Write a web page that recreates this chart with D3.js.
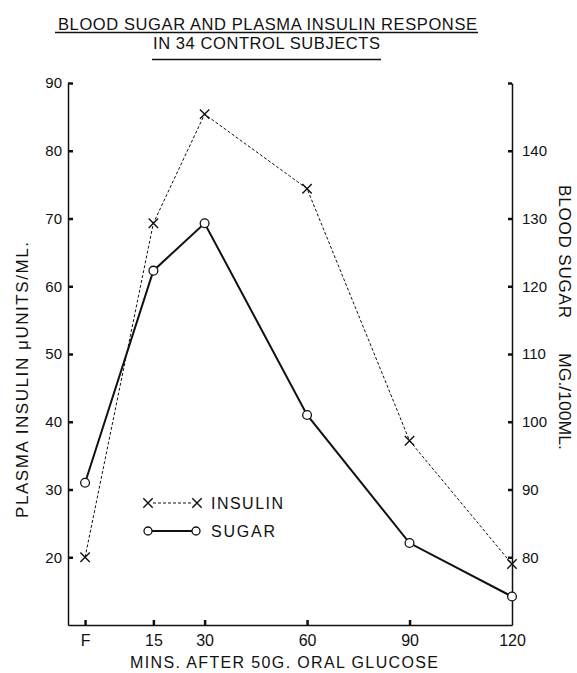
<!DOCTYPE html>
<html>
<head>
<meta charset="utf-8">
<script src="https://cdn.jsdelivr.net/npm/d3@7"></script>
<style>
  body { margin: 0; background: #fff; }
  svg text { font-family: 'Liberation Sans', Arial, sans-serif; fill: #111; }
  .axis path { stroke: #111; stroke-width: 1.5px; }
  .axis line { stroke: #111; stroke-width: 2.5px; }
  .axis text { font-size: 15px; }
</style>
</head>
<body>
<script>
// time points (F = fasting, placed just left of zero)
var timeLabels = ["F", "15", "30", "60", "90", "120"];
var timeMins = [-5, 15, 30, 60, 90, 120];

// mean values
var insulin = [20, 69.3, 85.4, 74.4, 37.2, 19];      // plasma insulin, microunits/ml
var sugar = [91, 122.3, 129.3, 101, 82.1, 74.2];     // blood sugar, mg/100ml

var insulinTicks = [20, 30, 40, 50, 60, 70, 80, 90];
var sugarTicks = [80, 90, 100, 110, 120, 130, 140, 150];

var W = 577, H = 673;
var pLeft = 68, pRight = 512, pTop = 83, pBottom = 625;

var svg = d3.select("body").append("svg")
  .attr("width", W)
  .attr("height", H);

var x = d3.scaleLinear().domain([-10, 120]).range([pLeft, pRight]);
var yIns = d3.scaleLinear().domain([10, 90]).range([pBottom, pTop]);
var ySug = d3.scaleLinear().domain([70, 150]).range([pBottom, pTop]);

//////////////////////////// titles ////////////////////////////
svg.append("text")
  .attr("x", 58).attr("y", 29.5)
  .attr("textLength", 419).attr("lengthAdjust", "spacing")
  .style("font-size", "16.5px")
  .text("BLOOD SUGAR AND PLASMA INSULIN RESPONSE");
svg.append("line")
  .attr("x1", 55).attr("x2", 478).attr("y1", 32.5).attr("y2", 32.5)
  .style("stroke", "#111").style("stroke-width", 1.3);

svg.append("text")
  .attr("x", 153).attr("y", 48.5)
  .attr("textLength", 227).attr("lengthAdjust", "spacing")
  .style("font-size", "16.5px")
  .text("IN 34 CONTROL SUBJECTS");
svg.append("line")
  .attr("x1", 152).attr("x2", 381).attr("y1", 59.5).attr("y2", 59.5)
  .style("stroke", "#111").style("stroke-width", 1.3);

//////////////////////////// axes ////////////////////////////
svg.append("g")
  .attr("class", "axis")
  .attr("transform", "translate(" + pLeft + ",0)")
  .call(d3.axisLeft(yIns).tickValues(insulinTicks).tickSizeInner(-5).tickSizeOuter(0).tickPadding(6));

svg.append("g")
  .attr("class", "axis")
  .attr("transform", "translate(" + pRight + ",0)")
  .call(d3.axisRight(ySug).tickValues(sugarTicks).tickSizeInner(-4).tickSizeOuter(0).tickPadding(10)
    .tickFormat(function(d) { return d === 150 ? "" : d; }));

svg.append("g")
  .attr("class", "axis")
  .attr("transform", "translate(0," + pBottom + ")")
  .call(d3.axisBottom(x).tickValues(timeMins).tickSizeInner(-5).tickSizeOuter(0).tickPadding(10)
    .tickFormat(function(d, i) { return timeLabels[i]; }))
  .call(function(g) {
    g.selectAll(".tick").filter(function(d) { return d === 120; }).select("line").remove();
    g.selectAll("text").attr("y", 10).attr("dy", "0.71em").style("font-size", "16px");
  });

// axis titles
svg.append("text")
  .attr("transform", "translate(28,380) rotate(-90)")
  .attr("text-anchor", "middle")
  .attr("textLength", 276).attr("lengthAdjust", "spacing")
  .style("font-size", "17px")
  .text("PLASMA INSULIN \u03bcUNITS/ML.");

svg.append("text")
  .attr("transform", "translate(559,185) rotate(90)")
  .attr("textLength", 133).attr("lengthAdjust", "spacing")
  .style("font-size", "17px")
  .text("BLOOD SUGAR");
svg.append("text")
  .attr("transform", "translate(559,353) rotate(90)")
  .attr("textLength", 97).attr("lengthAdjust", "spacingAndGlyphs")
  .style("font-size", "16px")
  .text("MG./100ML.");

svg.append("text")
  .attr("x", 130).attr("y", 668)
  .attr("textLength", 308).attr("lengthAdjust", "spacing")
  .style("font-size", "16px")
  .text("MINS. AFTER  50G. ORAL GLUCOSE");

//////////////////////////// series ////////////////////////////
var insPts = timeMins.map(function(t, i) { return [x(t), yIns(insulin[i])]; });
var sugPts = timeMins.map(function(t, i) { return [x(t), ySug(sugar[i])]; });

svg.append("path")
  .attr("d", d3.line()(insPts))
  .style("fill", "none").style("stroke", "#111")
  .style("stroke-width", 1).style("stroke-dasharray", "3,2");

svg.append("path")
  .attr("d", d3.line()(sugPts))
  .style("fill", "none").style("stroke", "#111").style("stroke-width", 2);

function cross(g, cx, cy) {
  var s = 4.7;
  g.append("path")
    .attr("d", "M" + (cx - s) + "," + (cy - s) + "L" + (cx + s) + "," + (cy + s) +
               "M" + (cx - s) + "," + (cy + s) + "L" + (cx + s) + "," + (cy - s))
    .style("stroke", "#111").style("stroke-width", 1.4).style("fill", "none");
}

insPts.forEach(function(p) { cross(svg, p[0], p[1]); });

svg.selectAll(".sugarDot")
  .data(sugPts)
  .enter().append("circle")
  .attr("class", "sugarDot")
  .attr("cx", function(d) { return d[0]; })
  .attr("cy", function(d) { return d[1]; })
  .attr("r", 4.4)
  .style("fill", "#fff").style("stroke", "#111").style("stroke-width", 1.3);

//////////////////////////// legend ////////////////////////////
var legend = svg.append("g");
legend.append("line")
  .attr("x1", 153).attr("x2", 192).attr("y1", 503).attr("y2", 503)
  .style("stroke", "#111").style("stroke-width", 1).style("stroke-dasharray", "3,2");
cross(legend, 148, 503);
cross(legend, 197, 503);
legend.append("text").attr("x", 211).attr("y", 508.5)
  .attr("textLength", 72).attr("lengthAdjust", "spacing")
  .style("font-size", "16px").text("INSULIN");

legend.append("line")
  .attr("x1", 148).attr("x2", 196).attr("y1", 531).attr("y2", 531)
  .style("stroke", "#111").style("stroke-width", 2);
legend.selectAll("circle")
  .data([148, 196])
  .enter().append("circle")
  .attr("cx", function(d) { return d; }).attr("cy", 531).attr("r", 4)
  .style("fill", "#fff").style("stroke", "#111").style("stroke-width", 1.3);
legend.append("text").attr("x", 211).attr("y", 537)
  .attr("textLength", 64).attr("lengthAdjust", "spacing")
  .style("font-size", "16px").text("SUGAR");
</script>
</body>
</html>
